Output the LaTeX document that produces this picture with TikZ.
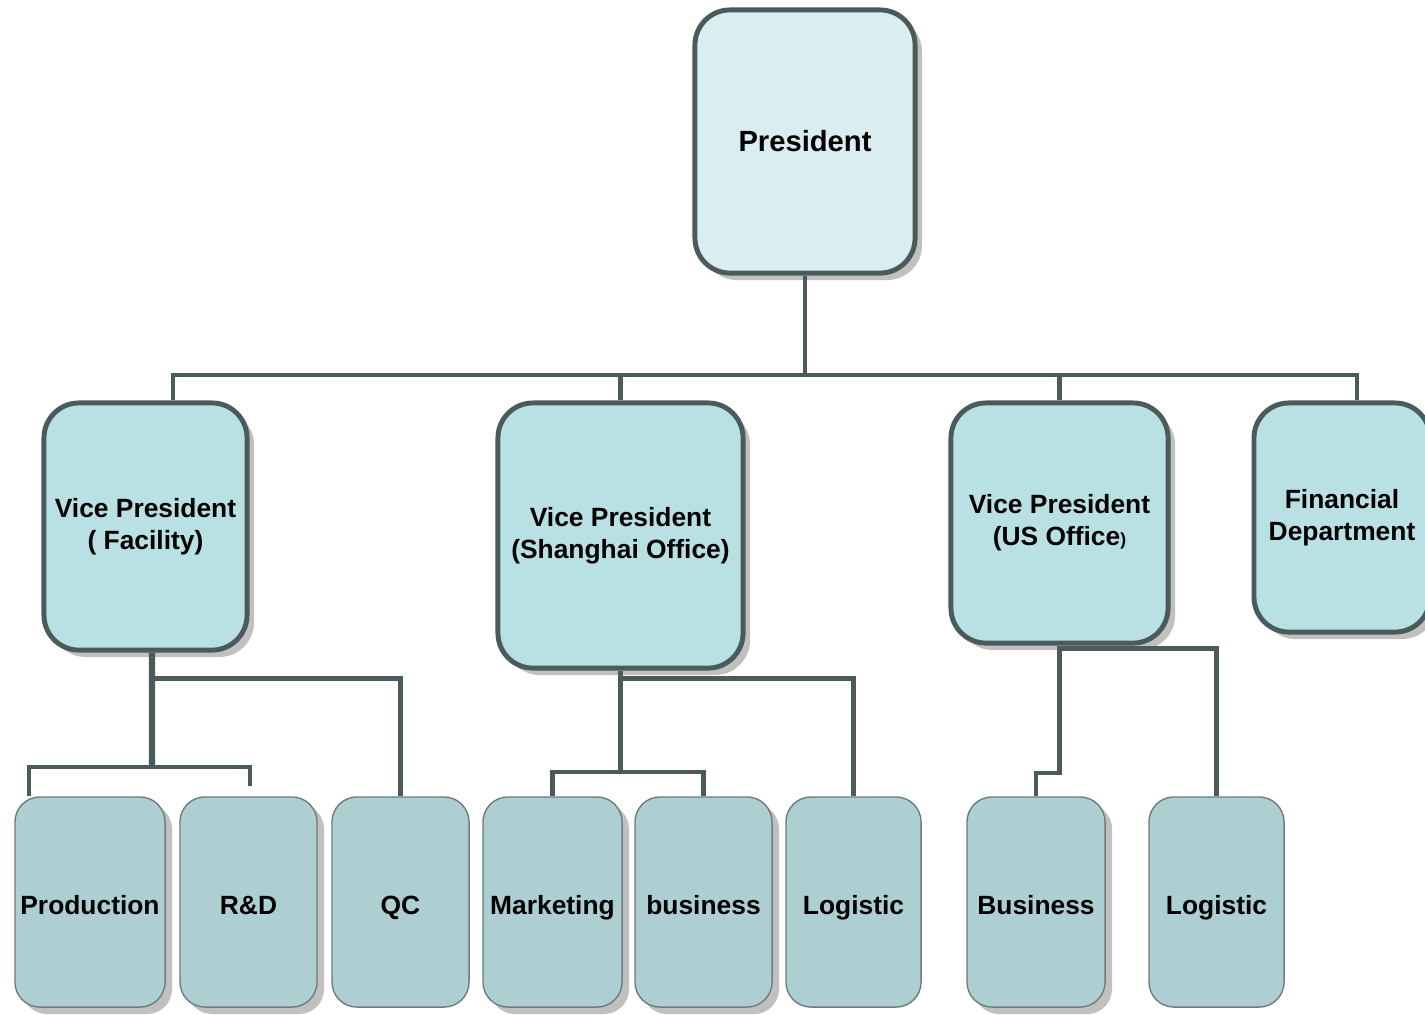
\documentclass[tikz,border=0pt]{standalone}
\usepackage{fontspec}
\setmainfont{Liberation Sans}
\usetikzlibrary{shadows}
\definecolor{edgegray}{HTML}{4B5A5B}
\definecolor{shadowgray}{HTML}{C0C0C0}
\definecolor{topfill}{HTML}{DAEDF0}
\definecolor{vpfill}{HTML}{B9E0E3}
\definecolor{unitfill}{HTML}{ADCFD1}

\begin{document}
\begin{tikzpicture} [x = 0.01cm, y = -0.01cm,
  shade/.style = {drop shadow = {shadow xshift = 0.07cm, shadow yshift = -0.07cm, fill = shadowgray, opacity = 1}},
  head/.style = {draw = edgegray, line width = 1.4pt, rounded corners = 0.35cm, align = center, inner sep = 1pt,
                 font = \fontsize{7.5}{9.1}\selectfont\bfseries},
  chief/.style = {head, shade, fill = topfill, font = \fontsize{8.3}{10}\selectfont\bfseries},
  vp/.style = {head, shade, fill = vpfill},
  unit/.style = {draw = edgegray!80, line width = 0.4pt, fill = unitfill, rounded corners = 0.25cm, align = center,
                 inner sep = 1pt, minimum height = 2.1cm, text height = 1.8ex, text depth = 0.5ex,
                 font = \fontsize{7.5}{9.1}\selectfont\bfseries},
  link/.style = {draw = edgegray, line width = 1.3pt}]
\useasboundingbox (0,0) rectangle (1425,1014);
\node[chief, minimum width = 2.2cm, minimum height = 2.63cm] (pres) at (805,141.5) {President};
\node[vp, minimum width = 2.03cm, minimum height = 2.47cm] (vpf) at (145.5,526.5) {Vice President\\( Facility)};
\node[vp, minimum width = 2.45cm, minimum height = 2.65cm] (vps) at (620.5,535.5) {Vice President\\(Shanghai Office)};
\node[vp, minimum width = 2.17cm, minimum height = 2.4cm] (vpu) at (1059.5,523) {Vice President\\(US Office{\fontsize{5}{6}\selectfont)}};
\node[vp, minimum width = 1.76cm, minimum height = 2.29cm] (fin) at (1342,517.5) {Financial\\Department};
\node[unit, shade, minimum width = 1.5cm] (prod) at (90,902) {Production};
\node[unit, shade, minimum width = 1.37cm] (rd) at (248.5,902) {R\&D};
\node[unit, minimum width = 1.37cm] (qc) at (400.5,902) {QC};
\node[unit, shade, minimum width = 1.39cm] (mkt) at (552.5,902) {Marketing};
\node[unit, shade, minimum width = 1.37cm] (biz) at (703.5,902) {business};
\node[unit, minimum width = 1.35cm] (logsh) at (853.5,902) {Logistic};
\node[unit, shade, minimum width = 1.38cm] (bizus) at (1036,902) {Business};
\node[unit, minimum width = 1.35cm] (logus) at (1216.5,902) {Logistic};
\coordinate (pbus) at (805,375);
\coordinate (fj) at (152,767);
\coordinate (sj) at (620.5,772);
\coordinate (uj) at (1059.5,773);
\draw [link] (pres) -- (pbus);
\draw [link] ([xshift = 2.75mm]vpf.north) |- (pbus) -| ([xshift = 1.5mm]fin.north);
\draw [link] (vps.north) -- (vps.north |- pbus);
\draw [link] (vpu.north) -- (vpu.north |- pbus);
\draw [link, line width = 1.8pt] ([xshift = 0.65mm]vpf.south) -- (fj);
\draw [link] ([xshift = -6.1mm]prod.north) |- (fj) -| ([xshift = 0.15mm, yshift = 1mm]rd.north);
\draw [link] ([xshift = 0.65mm, yshift = -2.6mm]vpf.south) -| (qc.north);
\draw [link] (vps.south) -- (sj);
\draw [link] (mkt.north) |- (sj) -| (biz.north);
\draw [link] ([yshift = -0.8mm]vps.south) -| (logsh.north);
\draw [link] (vpu.south) -- (uj) -| (bizus.north);
\draw [link] ([yshift = -0.3mm]vpu.south) -| (logus.north);
\end{tikzpicture}
\end{document}
